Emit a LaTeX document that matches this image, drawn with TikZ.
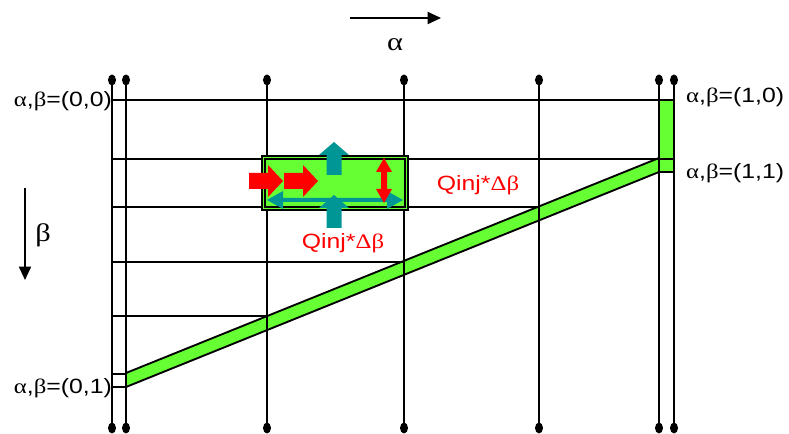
\documentclass[tikz,border=0pt]{standalone}
\usepackage{fontspec}
\setmainfont{Liberation Sans}
\newfontfamily\grkfont{Liberation Serif}
\usetikzlibrary{arrows.meta}
\definecolor{cellgreen}{RGB}{102,255,51}
\definecolor{flowteal}{RGB}{0,150,150}
\definecolor{flowred}{RGB}{255,0,0}
\newcommand{\galpha}{{\grkfont α}}
\newcommand{\gbeta}{{\grkfont β}}
\newcommand{\gDelta}{{\grkfont Δ}}

\begin{document}
\begin{tikzpicture}[x=0.75pt,y=-0.75pt,line width=1.4pt,
    lbl/.style={font=\fontsize{15.5}{17}\selectfont,inner sep=0pt,xscale=1.2,transform shape},
    qlbl/.style={lbl,text=flowred}]
  \useasboundingbox (0,0) rectangle (789,434);
  % green cells
  \fill[cellgreen] (659,100) rectangle (674,172);
  \filldraw[fill=cellgreen] (126,373) -- (659,158) -- (659,172) -- (126,387) -- cycle;
  % horizontal grid lines
  \draw (112,100) -- (674,100);
  \foreach \y/\xe in {159/674,207/539,262/404,316/267}{
    \draw (112,\y) -- (\xe,\y);}
  \draw (659,172) -- (674,172);
  \draw (112,374) -- (126,374);
  \draw (112,387) -- (126,387);
  % vertical lines with pins
  \foreach \i/\x in {1/112,2/126,3/267,4/404,5/539,6/659,7/674}{
    \coordinate (t\i) at (\x,80);
    \coordinate (b\i) at (\x,428);
    \draw (t\i) -- (b\i);
    \fill (t\i) ellipse (4 and 5.5);
    \fill (b\i) ellipse (4 and 5.5);}
  % control volume
  \fill[cellgreen] (262,156) rectangle (408,210);
  \draw[line width=2.2pt] (262,156) rectangle (408,210);
  \draw[line width=0.9pt] (265,159) rectangle (405,207);
  % teal fluxes
  \fill[flowteal] (267,200) -- (283,191) -- (283,198) -- (387,198) -- (387,191)
    -- (403,200) -- (387,209) -- (387,202) -- (283,202) -- (283,209) -- cycle;
  \foreach \ty in {142,195}{
    \fill[flowteal] (334,\ty) -- (349,\ty+13) -- (341.5,\ty+13) -- (341.5,\ty+33)
      -- (326.5,\ty+33) -- (326.5,\ty+13) -- (319,\ty+13) -- cycle;}
  % red fluxes
  \foreach \x in {249,284}{
    \fill[flowred] (\x,173) -- (\x+19,173) -- (\x+19,165) -- (\x+34,181)
      -- (\x+19,197) -- (\x+19,189) -- (\x,189) -- cycle;}
  \fill[flowred] (384,158) -- (392,172) -- (387,172) -- (387,189) -- (392,189)
    -- (384,203) -- (376,189) -- (381,189) -- (381,172) -- (376,172) -- cycle;
  % directions
  \coordinate (a0) at (350,18);
  \coordinate (a1) at (441,18);
  \coordinate (c0) at (25,188);
  \coordinate (c1) at (25,280);
  \draw[-{Triangle[length=10pt,width=9pt]}] (a0) -- (a1);
  \draw[-{Triangle[length=10pt,width=9pt]}] (c0) -- (c1);
  \node[lbl,font=\fontsize{19}{21}\selectfont] (alab) at (395,45) {\galpha};
  \node[lbl,font=\fontsize{19}{21}\selectfont] (blab) at (43,235) {\gbeta};
  % corner labels
  \node[lbl,anchor=east] (p00) at (113,101) {\galpha,\gbeta=(0,0)};
  \node[lbl,anchor=west] (p10) at (685,97) {\galpha,\gbeta=(1,0)};
  \node[lbl,anchor=west] (p11) at (685,173) {\galpha,\gbeta=(1,1)};
  \node[lbl,anchor=east] (p01) at (113,388) {\galpha,\gbeta=(0,1)};
  \node[qlbl] (q1) at (478,185) {Qinj*\gDelta\gbeta};
  \node[qlbl] (q2) at (343,243) {Qinj*\gDelta\gbeta};
\end{tikzpicture}
\end{document}
